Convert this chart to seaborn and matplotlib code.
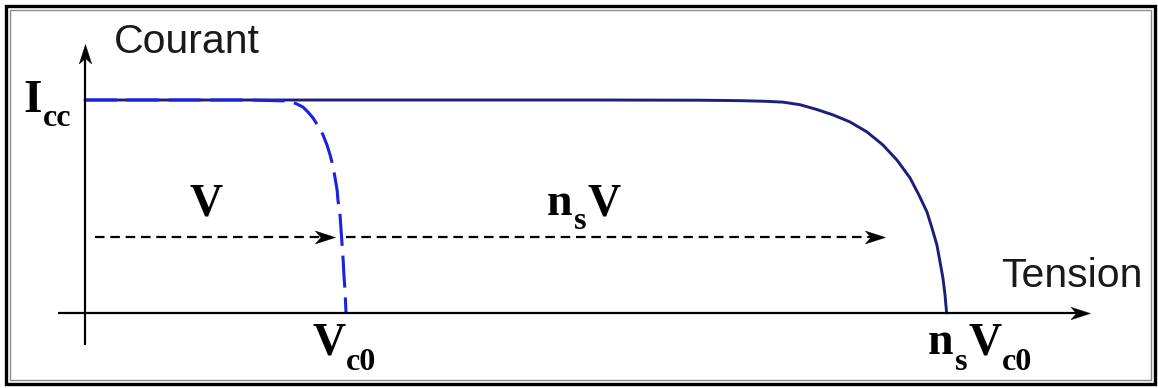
import matplotlib
matplotlib.use("Agg")
import matplotlib.pyplot as plt
import seaborn as sns
import pandas as pd
from matplotlib.patches import Rectangle
from matplotlib.path import Path

# I-V characteristic: one cell (dashed) and a string of n_s cells in series (solid).
# Current normalised to I_cc = 1, voltage normalised to the cell open-circuit voltage V_c0 = 1.
cell_v = [0.000, 0.632, 0.785, 0.812, 0.835, 0.854, 0.874, 0.893, 0.912, 0.927, 0.939,
          0.950, 0.958, 0.966, 0.969, 0.977, 0.981, 0.985, 0.989, 0.992, 0.996, 1.000]
cell_i = [1.000, 1.000, 0.995, 0.981, 0.967, 0.944, 0.915, 0.878, 0.836, 0.789, 0.742,
          0.690, 0.634, 0.577, 0.531, 0.460, 0.390, 0.319, 0.249, 0.178, 0.108, 0.000]

string_v = [0.000, 1.973, 2.360, 2.510, 2.605, 2.674, 2.739, 2.805, 2.866, 2.931, 2.996,
            3.057, 3.111, 3.161, 3.195, 3.226, 3.245, 3.264, 3.276, 3.287, 3.295, 3.301]
string_i = [1.000, 1.000, 0.999, 0.997, 0.994, 0.990, 0.978, 0.955, 0.930, 0.897, 0.850,
            0.789, 0.718, 0.634, 0.554, 0.474, 0.399, 0.319, 0.239, 0.164, 0.085, 0.000]

shift_level = 0.357      # height of the translation arrows

sns.set_theme(style="white")
plt.rcParams["font.family"] = ["Liberation Sans", "DejaVu Sans"]

fig = plt.figure(figsize=(11.58, 3.88), dpi=100)
ax = fig.add_axes([0, 0, 1, 1])
ax.set_xlim(-0.3257, 4.111)
ax.set_ylim(-0.3521, 1.4695)
ax.axis("off")
PX_X, PX_Y = 261.0, 213.0   # pixels per data unit

df_string = pd.DataFrame({"V": string_v, "I": string_i})
df_cell = pd.DataFrame({"V": cell_v, "I": cell_i})

sns.lineplot(data=df_string, x="V", y="I", ax=ax, color="#1c1f78", lw=2.1,
             sort=False, estimator=None)
sns.lineplot(data=df_cell, x="V", y="I", ax=ax, color="#1a22e0", lw=2.2,
             sort=False, estimator=None, linestyle=(0, (10.5, 3.2)))

# stealth-style arrow heads, tip at the origin of the path
codes = [Path.MOVETO, Path.LINETO, Path.LINETO, Path.LINETO, Path.CLOSEPOLY]
right_head = Path([(0, 0), (-1, 0.32), (-0.72, 0), (-1, -0.32), (0, 0)], codes)
up_head = Path([(0, 0), (0.32, -1), (0, -0.72), (-0.32, -1), (0, 0)], codes)

# axes
x_axis_end, y_axis_end = 3.851, 1.262
ax.plot([-0.103, x_axis_end - 0.03], [0, 0], color="black", lw=1.6, solid_capstyle="butt")
ax.plot([0, 0], [-0.150, y_axis_end - 0.04], color="black", lw=1.6, solid_capstyle="butt")
ax.plot([x_axis_end], [0], marker=right_head, ms=28, color="black", mew=0.3)
ax.plot([0], [y_axis_end], marker=up_head, ms=28, color="black", mew=0.3)

# dashed translation arrows
for x0, x1 in [(0.038, 0.958), (1.0, 3.065)]:
    ax.plot([x0, x1 - 0.05], [shift_level, shift_level], color="black", lw=1.6,
            linestyle=(0, (4.3, 2.6)))
    ax.plot([x1], [shift_level], marker=right_head, ms=29, color="black", mew=0.3)

# axis titles
ax.text(0.112, 1.221, "Courant", fontsize=29.5, color="#1a1a1a",
        ha="left", va="baseline")
ax.text(3.51, 0.122, "Tension", fontsize=29.5, color="#1a1a1a",
        ha="left", va="baseline")

# symbolic labels, bold serif with lowered subscripts
renderer = fig.canvas.get_renderer()


def serif_label(x, y, parts, size=33, sub_size=23, drop_px=15):
    cur = x
    for txt, is_sub in parts:
        yy = y - drop_px / PX_Y if is_sub else y
        t = ax.text(cur, yy, txt, fontsize=sub_size if is_sub else size,
                    family="Liberation Serif", weight="bold", color="black",
                    ha="left", va="baseline")
        bb = t.get_window_extent(renderer)
        cur = ax.transData.inverted().transform((bb.x1, 0))[0] + 1.0 / PX_X


serif_label(-0.2375, 0.944, [("I", False), ("cc", True)], size=34, drop_px=14)
serif_label(0.402, 0.460, [("V", False)])
serif_label(1.770, 0.460, [("n", False), ("s", True), ("V", False)], drop_px=14)
serif_label(0.870, -0.1925, [("V", False), ("c0", True)], drop_px=16)
serif_label(3.230, -0.1925, [("n", False), ("s", True), ("V", False), ("c0", True)],
            drop_px=16)

# double frame around the figure
W, H = 1158, 388
fig.patches.append(Rectangle((5.5 / W, 4.5 / H), 1149 / W, 378 / H, transform=fig.transFigure,
                             fill=False, edgecolor="black", lw=2.4, zorder=5))
fig.patches.append(Rectangle((10 / W, 8.5 / H), 1141 / W, 370 / H, transform=fig.transFigure,
                             fill=False, edgecolor="#8a8a8a", lw=1.0, zorder=5))

fig.savefig("out.png", dpi=100, facecolor="white")
